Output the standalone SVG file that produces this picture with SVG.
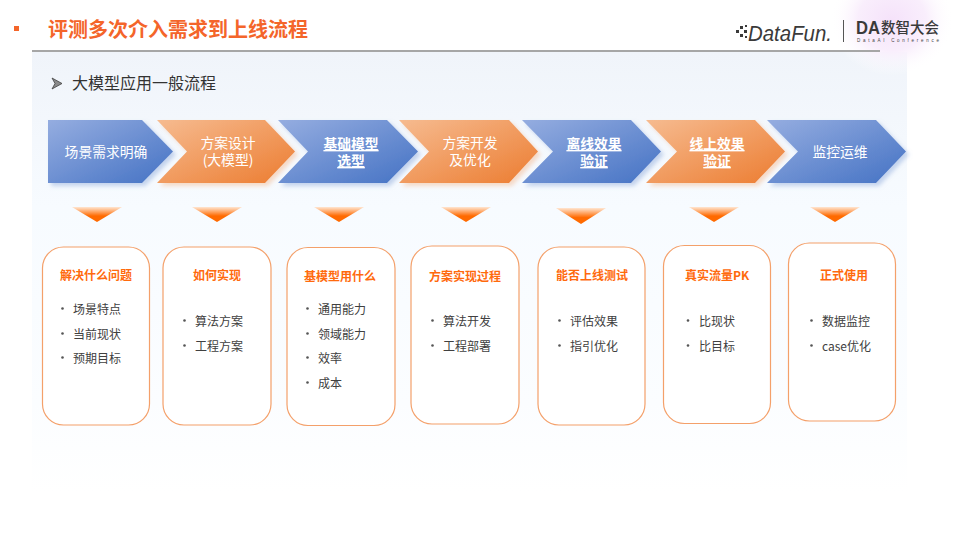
<svg xmlns="http://www.w3.org/2000/svg" width="960" height="540" viewBox="0 0 960 540">
<style>
text{font-family:"Noto Sans CJK SC","Liberation Sans",sans-serif}
.ct{font-size:13.800px;fill:#fff;text-anchor:middle}
.cb{font-weight:700;text-decoration:underline}
.blue{fill:url(#gb);filter:url(#sb)}
.org{fill:url(#go);filter:url(#so)}
.tri{fill:url(#gt)}
.card{fill:#fff;stroke:#f4a06a;stroke-width:1.200}
.h{font-size:12px;font-weight:700;fill:#ff6a0d;text-anchor:middle}
.b{font-size:12px;fill:#404040}
.d{fill:#555}
.lg{fill:#3a3a3a}
</style>
<defs>
<linearGradient id="bg" x1="0" y1="0" x2="0" y2="1"><stop offset="0" stop-color="#f0f4fa"/><stop offset=".35" stop-color="#f7fbff"/><stop offset=".8" stop-color="#fbfdff"/><stop offset="1" stop-color="#fff"/></linearGradient>
<linearGradient id="gb" x1="0" y1="0" x2="1" y2="1"><stop offset="0" stop-color="#95ade0"/><stop offset="1" stop-color="#4472c4"/></linearGradient>
<linearGradient id="go" x1="0" y1="0" x2="1" y2="1"><stop offset="0" stop-color="#f6bb90"/><stop offset="1" stop-color="#ec7c30"/></linearGradient>
<linearGradient id="gt" x1="0" y1="0" x2="0" y2="1"><stop offset="0" stop-color="#ffe6d2"/><stop offset=".6" stop-color="#ff6a00"/><stop offset="1" stop-color="#ff6a00"/></linearGradient>
<radialGradient id="glow" cx=".5" cy=".5" r=".5"><stop offset="0" stop-color="#f5e2fa"/><stop offset=".55" stop-color="#f9eefc"/><stop offset="1" stop-color="#fff" stop-opacity="0"/></radialGradient>
<filter id="sb" x="-10%" y="-10%" width="125%" height="130%"><feDropShadow dx="3" dy="3" stdDeviation="2" flood-color="#8faadc" flood-opacity=".5"/></filter>
<filter id="so" x="-10%" y="-10%" width="125%" height="130%"><feDropShadow dx="3" dy="3" stdDeviation="2" flood-color="#f4b183" flood-opacity=".45"/></filter>
</defs>
<rect id="background" x="32" y="52" width="875" height="440" fill="url(#bg)"/>
<ellipse id="glow-spot" cx="892" cy="20" rx="62" ry="56" fill="url(#glow)"/>
<g id="title">
<rect x="14" y="26" width="5" height="5" fill="#f4652a"/>
<text x="48" y="37" font-size="20" font-weight="700" fill="#f4652a">评测多次介入需求到上线流程</text>
<rect x="32" y="50" width="848" height="2" fill="#a6a6a6"/>
</g>
<g id="logo">
<g class="lg"><rect x="736" y="30" width="3" height="3"/><rect x="740" y="26" width="3" height="3"/><rect x="740" y="34" width="3" height="3"/><rect x="744" y="30" width="3" height="3"/><rect x="745" y="25" width="2" height="2"/><rect x="745" y="36" width="2" height="2"/></g>
<text x="748" y="41" font-size="22" font-style="italic" class="lg" textLength="84" lengthAdjust="spacingAndGlyphs" style="font-family:'Liberation Sans',sans-serif">DataFun.</text>
<rect x="843" y="20" width="1" height="22" fill="#555"/>
<text x="856" y="34" font-size="18" font-weight="700" class="lg" style="font-family:'Liberation Sans',sans-serif" textLength="24" lengthAdjust="spacingAndGlyphs">DA</text>
<text x="881" y="33" font-size="14.500" font-weight="500" class="lg">数智大会</text>
<text x="857" y="42" font-size="4.500" fill="#444" textLength="82" style="font-family:'Liberation Sans',sans-serif">DataAI Conference</text>
</g>
<g id="subtitle">
<path d="M52 78 L62 83.500 L52 89 L55 83.500 Z" fill="#8a8a8a" stroke="#404040" stroke-width=".8"/>
<text x="72" y="89" font-size="16" fill="#333">大模型应用一般流程</text>
</g>
<g id="connectors"/>
<g id="s1"><path class="blue" d="M48 120H142L173 151.500L142 183H48Z"/><text class="ct" x="106" y="157">场景需求明确</text></g>
<g id="s2"><path class="org" d="M157 120H265L295 151.500L265 183H157L187 151.500Z"/><text class="ct" y="148"><tspan x="228">方案设计</tspan><tspan x="228" dy="17">(大模型)</tspan></text></g>
<g id="s3"><path class="blue" d="M278 120H387L418 151.500L387 183H278L308 151.500Z"/><text class="ct cb" y="149"><tspan x="351">基础模型</tspan><tspan x="351" dy="17">选型</tspan></text></g>
<g id="s4"><path class="org" d="M399 120H509L538 151.500L509 183H399L429 151.500Z"/><text class="ct" y="148"><tspan x="470">方案开发</tspan><tspan x="470" dy="17">及优化</tspan></text></g>
<g id="s5"><path class="blue" d="M522 120H631L661 151.500L631 183H522L553 151.500Z"/><text class="ct cb" y="149"><tspan x="594">离线效果</tspan><tspan x="594" dy="17">验证</tspan></text></g>
<g id="s6"><path class="org" d="M646 120H755L785 151.500L755 183H646L677 151.500Z"/><text class="ct cb" y="149"><tspan x="717">线上效果</tspan><tspan x="717" dy="17">验证</tspan></text></g>
<g id="s7"><path class="blue" d="M767 120H876L906 151.500L876 183H767L798 151.500Z"/><text class="ct" x="840" y="157">监控运维</text></g>
<g id="t1"><path class="tri" d="M72 207H122L97 222Z"/></g>
<g id="t2"><path class="tri" d="M192 207H242L217 222Z"/></g>
<g id="t3"><path class="tri" d="M314 207H364L339 222Z"/></g>
<g id="t4"><path class="tri" d="M441 207H491L466 222Z"/></g>
<g id="t5"><path class="tri" d="M556 208H606L581 224Z"/></g>
<g id="t6"><path class="tri" d="M689 207H739L714 222Z"/></g>
<g id="t7"><path class="tri" d="M810 207H860L835 222Z"/></g>
<g id="c1"><rect class="card" x="42.500" y="247" width="107" height="178" rx="21"/><text class="h" x="96" y="280">解决什么问题</text>
<circle class="d" cx="62.500" cy="308.500" r="1.300"/><text class="b" x="73" y="314">场景特点</text>
<circle class="d" cx="62.500" cy="333.500" r="1.300"/><text class="b" x="73" y="339">当前现状</text>
<circle class="d" cx="62.500" cy="357.500" r="1.300"/><text class="b" x="73" y="363">预期目标</text></g>
<g id="c2"><rect class="card" x="163" y="247" width="108" height="178" rx="21"/><text class="h" x="217" y="280">如何实现</text>
<circle class="d" cx="184.500" cy="320.500" r="1.300"/><text class="b" x="195" y="326">算法方案</text>
<circle class="d" cx="184.500" cy="345.500" r="1.300"/><text class="b" x="195" y="351">工程方案</text></g>
<g id="c3"><rect class="card" x="287" y="247.500" width="108" height="178" rx="21"/><text class="h" x="340" y="281">基模型用什么</text>
<circle class="d" cx="307.500" cy="308.500" r="1.300"/><text class="b" x="318" y="314">通用能力</text>
<circle class="d" cx="307.500" cy="333.500" r="1.300"/><text class="b" x="318" y="339">领域能力</text>
<circle class="d" cx="307.500" cy="357.500" r="1.300"/><text class="b" x="318" y="363">效率</text>
<circle class="d" cx="307.500" cy="382.500" r="1.300"/><text class="b" x="318" y="388">成本</text></g>
<g id="c4"><rect class="card" x="411" y="246" width="108" height="178" rx="21"/><text class="h" x="465" y="281">方案实现过程</text>
<circle class="d" cx="432.500" cy="320.500" r="1.300"/><text class="b" x="443" y="326">算法开发</text>
<circle class="d" cx="432.500" cy="345.500" r="1.300"/><text class="b" x="443" y="351">工程部署</text></g>
<g id="c5"><rect class="card" x="538" y="247" width="107" height="178" rx="21"/><text class="h" x="592" y="280">能否上线测试</text>
<circle class="d" cx="559.500" cy="320.500" r="1.300"/><text class="b" x="570" y="326">评估效果</text>
<circle class="d" cx="559.500" cy="345.500" r="1.300"/><text class="b" x="570" y="351">指引优化</text></g>
<g id="c6"><rect class="card" x="663.500" y="245.500" width="107" height="178" rx="21"/><text class="h" x="717" y="280">真实流量PK</text>
<circle class="d" cx="688" cy="320.500" r="1.300"/><text class="b" x="699" y="326">比现状</text>
<circle class="d" cx="688" cy="345.500" r="1.300"/><text class="b" x="699" y="351">比目标</text></g>
<g id="c7"><rect class="card" x="788.500" y="243" width="107" height="178" rx="21"/><text class="h" x="844" y="280">正式使用</text>
<circle class="d" cx="811.500" cy="320.500" r="1.300"/><text class="b" x="822" y="326">数据监控</text>
<circle class="d" cx="811.500" cy="345.500" r="1.300"/><text class="b" x="822" y="351">case优化</text></g>
</svg>
